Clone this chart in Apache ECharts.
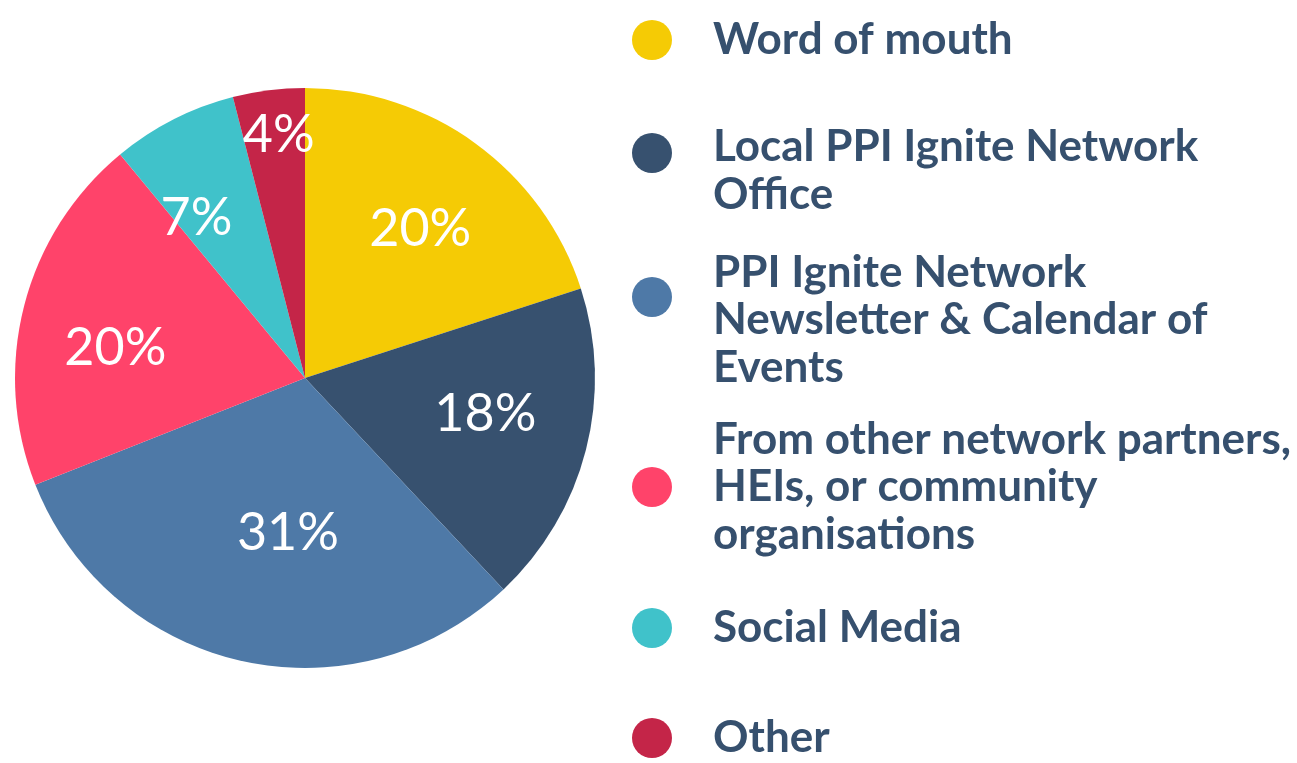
<!DOCTYPE html>
<html>
<head>
<meta charset="utf-8">
<script src="https://cdn.jsdelivr.net/npm/echarts@6/dist/echarts.min.js"></script>
<style>
html,body{margin:0;padding:0;background:#fff;}
#chart{width:1297px;height:763px;}
</style>
</head>
<body>
<div id="chart"></div>
<script>
// ---- data ----
const categories = [
  'Word of mouth',
  'Local PPI Ignite Network\nOffice',
  'PPI Ignite Network\nNewsletter & Calendar of\nEvents',
  'From other network partners,\nHEIs, or community\norganisations',
  'Social Media',
  'Other'
];
const values = [20, 18, 31, 20, 7, 4];
const colors = ['#F5CB05', '#37516F', '#4E79A7', '#FF436A', '#40C2CA', '#C42548'];

// ---- layout (not data) ----
const CENTER = [305, 378];
const RADIUS = 290;
// target radial distance and angular nudge (deg) of each percentage label
const LABEL_R = [188, 184, 156, 192, 193, 244];
const LABEL_DANGLE = [1.8, -3, -6.3, -5.4, -7.2, 1];
// legend placement
const LEGEND_TOP = [16.25, 87.5, 202.75, 415.75, 604.25, 714.25];
const LEGEND_SPACER = [0, 36, 46, 0, 0, 0];

const chart = echarts.init(document.getElementById('chart'), null, {renderer: 'canvas'});

const legends = categories.map((name, i) => ({
  data: [name],
  left: 632,
  top: LEGEND_TOP[i],
  orient: 'vertical',
  padding: 0,
  icon: 'circle',
  itemWidth: 40,
  itemHeight: 40,
  itemGap: 0,
  selectedMode: false,
  formatter: function (n) {
    return LEGEND_SPACER[i] ? '{s| }\n' + n : n;
  },
  textStyle: {
    fontFamily: 'Lato',
    fontWeight: 'bold',
    fontSize: 44,
    lineHeight: 47.5,
    color: '#36506E',
    padding: [0, 0, 0, 36],
    rich: {
      s: {fontSize: 2, lineHeight: LEGEND_SPACER[i] || 1}
    }
  }
}));

chart.setOption({
  animation: false,
  legend: legends,
  series: [{
    type: 'pie',
    center: CENTER,
    radius: [0, RADIUS],
    startAngle: 90,
    clockwise: true,
    avoidLabelOverlap: false,
    data: categories.map((name, i) => ({
      name: name,
      value: values[i],
      itemStyle: {color: colors[i]}
    })),
    label: {
      show: true,
      position: 'inside',
      formatter: '{c}%',
      color: '#ffffff',
      fontFamily: 'Lato',
      fontWeight: 'normal',
      fontSize: 52
    },
    labelLine: {show: false},
    emphasis: {disabled: true},
    labelLayout: function (p) {
      const i = p.dataIndex;
      const r = p.labelRect;
      const lx = r.x + r.width / 2, ly = r.y + r.height / 2;
      const a = Math.atan2(lx - CENTER[0], -(ly - CENTER[1])) + LABEL_DANGLE[i] * Math.PI / 180;
      return {
        x: CENTER[0] + LABEL_R[i] * Math.sin(a),
        y: CENTER[1] - LABEL_R[i] * Math.cos(a),
        align: 'center',
        verticalAlign: 'middle'
      };
    }
  }]
});
</script>
</body>
</html>
